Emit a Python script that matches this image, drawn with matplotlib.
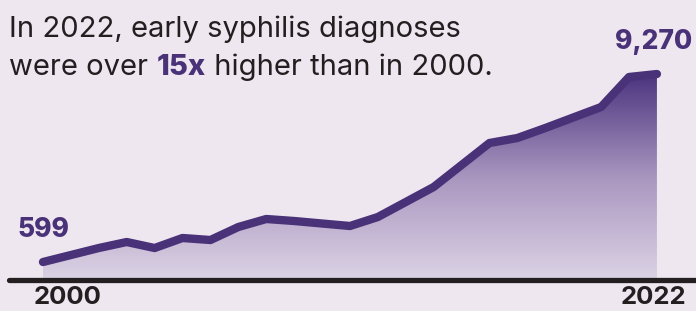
import matplotlib
matplotlib.use("Agg")
import matplotlib.pyplot as plt
import numpy as np
from matplotlib.colors import LinearSegmentedColormap

years = list(range(2000, 2023))
cases = [599, 922, 1245, 1522, 1245, 1707, 1614, 2214, 2583, 2491, 2375, 2260,
         2675, 3367, 4059, 5074, 6089, 6319, 6780, 7265, 7749, 9133, 9270]
first_label = "599"
last_label = "9,270"
tick_labels = ["2000", "2022"]

BG = "#EEE7F0"
PURPLE = "#4A3278"
DARK = "#231F20"

fig = plt.figure(figsize=(6.96, 3.11), dpi=100, facecolor=BG)
ax = fig.add_axes([0, 0, 1, 1])
ax.set_facecolor(BG)
ax.set_xlim(1998.46, 2023.40)
ax.set_ylim(-1660, 12684)
ax.axis("off")

base = -231
x = np.array(years, dtype=float)
y = np.array(cases, dtype=float)

poly = ax.fill_between(x, y, base, color="none", lw=0)
cmap = LinearSegmentedColormap.from_list("g", ["#DCD3E5", "#A996BF", "#4C347F"])
grad = np.linspace(0, 1, 256).reshape(-1, 1)
im = ax.imshow(grad, cmap=cmap, origin="lower", aspect="auto",
               extent=(x[0], x[-1], base, y.max()), zorder=1, interpolation="bicubic")
path = poly.get_paths()[0]
im.set_clip_path(path, transform=ax.transData)

ax.plot(x, y, color=PURPLE, lw=6.0, solid_capstyle="round", solid_joinstyle="round", zorder=3)
ax.plot([1998.8, 2023.4], [base, base], color=DARK, lw=3.8, solid_capstyle="round", zorder=4)

fam = ["Inter", "DejaVu Sans"]
ax.text(1999.1, 1730, first_label, color=PURPLE, fontsize=19, fontweight="heavy",
        family=fam, ha="left", va="baseline", zorder=5)
ax.text(2023.27, 10430, last_label, color=PURPLE, fontsize=19, fontweight="heavy",
        family=fam, ha="right", va="baseline", zorder=5)
ax.text(2000.88, -1360, tick_labels[0], color=DARK, fontsize=18.5, fontweight="bold",
        family=fam, ha="center", va="baseline", zorder=5)
ax.text(2021.87, -1360, tick_labels[1], color=DARK, fontsize=18.5, fontweight="bold",
        family=fam, ha="center", va="baseline", zorder=5)

# Title (two lines, second with bold purple "15x")
tfs = 21
fig.text(9 / 696, 1 - 37 / 311, "In 2022, early syphilis diagnoses", color=DARK,
         fontsize=tfs, family=fam, ha="left", va="baseline")
fig.canvas.draw()
r = fig.canvas.get_renderer()
xpos = 9
yb = 1 - 75 / 311
for txt, col, wt in [("were over ", DARK, "normal"), ("15x", PURPLE, "heavy"),
                     (" higher than in 2000.", DARK, "normal")]:
    t = fig.text(xpos / 696, yb, txt, color=col, fontsize=tfs, fontweight=wt,
                 family=fam, ha="left", va="baseline")
    bb = t.get_window_extent(renderer=r)
    xpos += bb.width

fig.savefig("out.png", dpi=100, facecolor=BG)
